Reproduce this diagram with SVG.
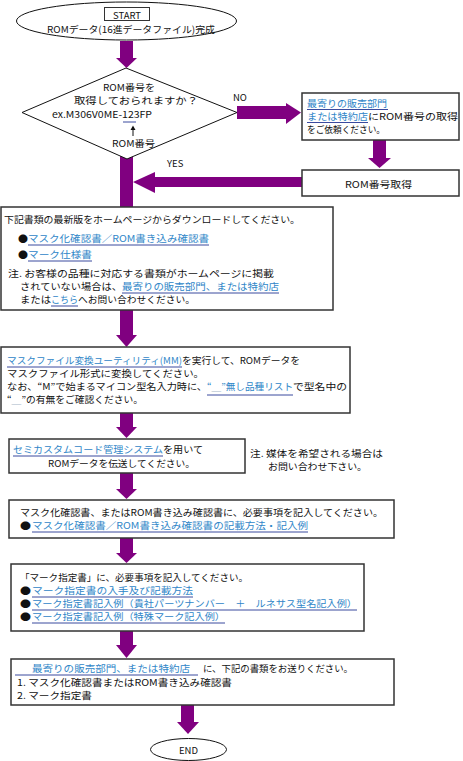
<svg xmlns="http://www.w3.org/2000/svg" width="463" height="761" viewBox="0 0 463 761">
<style>
text{font-family:"Noto Sans CJK JP","Noto Sans",sans-serif;font-size:9.5px;fill:#111}
.lk{fill:#2f86c8}
.ul{stroke:#3a4a9e;stroke-width:1}
.box{fill:#fff;stroke:#333;stroke-width:1.5}
.ar{fill:#800080}
.lt{fill:#a8b8c8}
</style>
<g id="connectors">
<rect class="ar" x="120" y="41" width="13" height="17"/><polygon class="ar" points="116,58 137,58 126.5,68"/>
<rect class="ar" x="237" y="106" width="49" height="13"/><polygon class="ar" points="286,103 286,124 301,112.5"/>
<rect class="ar" x="373" y="140" width="13" height="18"/><polygon class="ar" points="368,158 391,158 379.5,168"/>
<rect class="ar" x="154" y="177" width="148" height="10"/><polygon class="ar" points="155,172 155,193 133,182"/>
<rect class="ar" x="120" y="155" width="13" height="53"/>
<rect class="ar" x="120" y="310" width="13" height="25"/><polygon class="ar" points="116,335 137,335 126.5,347"/>
<rect class="ar" x="120" y="413" width="13" height="14"/><polygon class="ar" points="116,427 137,427 126.5,438"/>
<rect class="ar" x="120" y="473" width="13" height="17"/><polygon class="ar" points="116,489 137,489 126.5,499"/>
<rect class="ar" x="120" y="538" width="13" height="15"/><polygon class="ar" points="116,553 137,553 126.5,563"/>
<rect class="ar" x="120" y="631" width="13" height="15"/><polygon class="ar" points="116,645 137,645 126.5,658"/>
<rect class="ar" x="181" y="705" width="13" height="18"/><polygon class="ar" points="177,722 199,722 188,734"/>
<text x="233" y="101" font-size="10">NO</text>
<text x="167" y="167" font-size="10">YES</text>
</g>
<g id="start">
<ellipse cx="126.5" cy="21" rx="110" ry="19" fill="#fff" stroke="#111" stroke-width="1"/>
<rect x="104.5" y="7.5" width="45" height="13" fill="#fff" stroke="#333" stroke-width="1"/>
<text x="127" y="18.5" text-anchor="middle" font-size="9.5">START</text>
<text x="47" y="33" textLength="168" lengthAdjust="spacingAndGlyphs" font-size="10">ROMデータ(16進データファイル)完成</text>
</g>
<g id="decision">
<polygon points="126,68 237,112.5 127,159 22,112.5" fill="#fff" stroke="#111" stroke-width="1"/>
<text x="103" y="91" textLength="52" lengthAdjust="spacingAndGlyphs">ROM番号を</text>
<text x="74" y="104" textLength="124" lengthAdjust="spacingAndGlyphs">取得しておられますか？</text>
<text x="52" y="118" textLength="100" lengthAdjust="spacingAndGlyphs">ex.M306V0ME-123FP</text>
<line class="ul" x1="123" y1="122" x2="136" y2="122"/>
<line x1="133" y1="136" x2="133" y2="127" stroke="#111" stroke-width="1"/>
<polygon points="130.5,130 133,125.5 135.5,130" fill="#111"/>
<text x="112" y="147" textLength="43" lengthAdjust="spacingAndGlyphs">ROM番号</text>
</g>
<g id="request">
<rect class="box" x="302" y="93" width="157" height="47"/>
<text class="lk" x="307" y="107" textLength="80" lengthAdjust="spacingAndGlyphs">最寄りの販売部門</text>
<line class="ul" x1="307" y1="109.5" x2="388" y2="109.5"/>
<text x="307" y="120"><tspan class="lk" x="307" textLength="61" lengthAdjust="spacingAndGlyphs">または特約店</tspan><tspan x="368" textLength="90" lengthAdjust="spacingAndGlyphs">にROM番号の取得</tspan></text>
<line class="ul" x1="307" y1="122.5" x2="368" y2="122.5"/>
<text x="307" y="133" textLength="78" lengthAdjust="spacingAndGlyphs">をご依頼ください。</text>
</g>
<g id="obtain">
<rect class="box" x="302" y="170" width="157" height="26"/>
<text x="345" y="188" textLength="67" lengthAdjust="spacingAndGlyphs">ROM番号取得</text>
</g>
<g id="download">
<rect class="box" x="1" y="207" width="332" height="103"/>
<text x="4" y="223" textLength="296" lengthAdjust="spacingAndGlyphs">下記書類の最新版をホームページからダウンロードしてください。</text>
<text x="18" y="242"><tspan x="18" textLength="10" lengthAdjust="spacingAndGlyphs">●</tspan><tspan class="lk" x="28" textLength="181" lengthAdjust="spacingAndGlyphs">マスク化確認書／ROM書き込み確認書</tspan></text>
<line class="ul" x1="28" y1="245" x2="209" y2="245"/>
<text x="18" y="258"><tspan x="18" textLength="10" lengthAdjust="spacingAndGlyphs">●</tspan><tspan class="lk" x="28" textLength="64" lengthAdjust="spacingAndGlyphs">マーク仕様書</tspan></text>
<line class="ul" x1="28" y1="261" x2="92" y2="261" stroke="#8a8fc8"/>
<text x="8" y="277" textLength="266" lengthAdjust="spacingAndGlyphs">注. お客様の品種に対応する書類がホームページに掲載</text>
<text x="20" y="290"><tspan x="20" textLength="102" lengthAdjust="spacingAndGlyphs">されていない場合は、</tspan><tspan class="lk" x="122" textLength="157" lengthAdjust="spacingAndGlyphs">最寄りの販売部門、または特約店</tspan></text>
<line class="ul" x1="122" y1="293" x2="279" y2="293"/>
<text x="20" y="303"><tspan x="20" textLength="31" lengthAdjust="spacingAndGlyphs">または</tspan><tspan class="lk" x="51" textLength="27" lengthAdjust="spacingAndGlyphs">こちら</tspan><tspan x="78" textLength="117" lengthAdjust="spacingAndGlyphs">へお問い合わせください。</tspan></text>
<line class="ul" x1="51" y1="306" x2="78" y2="306"/>
</g>
<g id="convert">
<rect class="box" x="1" y="347" width="349" height="66"/>
<text x="7" y="364"><tspan class="lk" x="7" textLength="175" lengthAdjust="spacingAndGlyphs">マスクファイル変換ユーティリティ(MM)</tspan><tspan x="182" textLength="118" lengthAdjust="spacingAndGlyphs">を実行して、ROMデータを</tspan></text>
<line class="ul" x1="7" y1="367" x2="182" y2="367"/>
<text x="7" y="377" textLength="197" lengthAdjust="spacingAndGlyphs">マスクファイル形式に変換してください。</text>
<text x="7" y="390"><tspan x="7" textLength="200" lengthAdjust="spacingAndGlyphs">なお、“M”で始まるマイコン型名入力時に、</tspan><tspan class="lk" x="207" textLength="86" lengthAdjust="spacingAndGlyphs">“<tspan class="lt">＿</tspan>”無し品種リスト</tspan><tspan x="293" textLength="54" lengthAdjust="spacingAndGlyphs">で型名中の</tspan></text>
<line class="ul" x1="207" y1="395" x2="293" y2="395"/>
<text x="7" y="403" textLength="136" lengthAdjust="spacingAndGlyphs">“<tspan class="lt">＿</tspan>”の有無をご確認ください。</text>
</g>
<g id="transfer">
<rect class="box" x="9" y="439" width="236" height="34"/>
<text x="13" y="453"><tspan class="lk" x="13" textLength="150" lengthAdjust="spacingAndGlyphs">セミカスタムコード管理システム</tspan><tspan x="163" textLength="40" lengthAdjust="spacingAndGlyphs">を用いて</tspan></text>
<line class="ul" x1="13" y1="456" x2="163" y2="456"/>
<text x="48" y="467" textLength="147" lengthAdjust="spacingAndGlyphs">ROMデータを伝送してください。</text>
</g>
<g id="note">
<text x="250" y="457" textLength="133" lengthAdjust="spacingAndGlyphs">注. 媒体を希望される場合は</text>
<text x="268" y="470" textLength="99" lengthAdjust="spacingAndGlyphs">お問い合わせ下さい。</text>
</g>
<g id="confirm">
<rect class="box" x="9" y="500" width="385" height="38"/>
<text x="20" y="516" textLength="363" lengthAdjust="spacingAndGlyphs">マスク化確認書、またはROM書き込み確認書に、必要事項を記入してください。</text>
<text x="20" y="529"><tspan x="20" textLength="11" lengthAdjust="spacingAndGlyphs">●</tspan><tspan class="lk" x="32" textLength="276" lengthAdjust="spacingAndGlyphs">マスク化確認書／ROM書き込み確認書の記載方法・記入例</tspan></text>
<line class="ul" x1="32" y1="532" x2="308" y2="532"/>
</g>
<g id="mark">
<rect class="box" x="11" y="564" width="353" height="67"/>
<text x="20" y="581" textLength="228" lengthAdjust="spacingAndGlyphs">「マーク指定書」に、必要事項を記入してください。</text>
<text x="20" y="594"><tspan x="20" textLength="11" lengthAdjust="spacingAndGlyphs">●</tspan><tspan class="lk" x="32" textLength="161" lengthAdjust="spacingAndGlyphs">マーク指定書の入手及び記載方法</tspan></text>
<line class="ul" x1="32" y1="597" x2="193" y2="597"/>
<text x="20" y="607"><tspan x="20" textLength="11" lengthAdjust="spacingAndGlyphs">●</tspan><tspan class="lk" x="32" textLength="325" lengthAdjust="spacingAndGlyphs">マーク指定書記入例（貴社パーツナンバー　＋　ルネサス型名記入例）</tspan></text>
<line class="ul" x1="32" y1="610" x2="357" y2="610"/>
<text x="20" y="620"><tspan x="20" textLength="11" lengthAdjust="spacingAndGlyphs">●</tspan><tspan class="lk" x="32" textLength="193" lengthAdjust="spacingAndGlyphs">マーク指定書記入例（特殊マーク記入例）</tspan></text>
<line class="ul" x1="32" y1="623" x2="225" y2="623"/>
</g>
<g id="send">
<rect class="box" x="11" y="659" width="383" height="46"/>
<text x="32" y="672"><tspan class="lk" x="32" textLength="158" lengthAdjust="spacingAndGlyphs">最寄りの販売部門、または特約店</tspan><tspan x="203" textLength="150" lengthAdjust="spacingAndGlyphs">に、下記の書類をお送りください。</tspan></text>
<line class="ul" x1="15" y1="675" x2="198" y2="675" stroke="#2f86c8"/>
<text x="17" y="686" textLength="215" lengthAdjust="spacingAndGlyphs">1. マスク化確認書またはROM書き込み確認書</text>
<text x="17" y="699" textLength="75" lengthAdjust="spacingAndGlyphs">2. マーク指定書</text>
</g>
<g id="end">
<ellipse cx="188.5" cy="749.5" rx="38" ry="11" fill="#fff" stroke="#111" stroke-width="1"/>
<text x="188.5" y="753.5" text-anchor="middle" font-size="10">END</text>
</g>
</svg>
